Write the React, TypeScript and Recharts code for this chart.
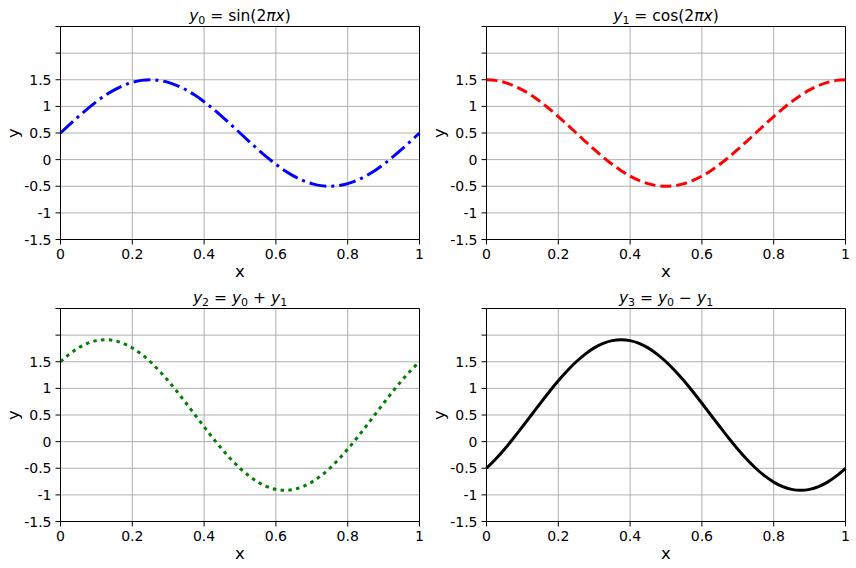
import React from 'react'
import { LineChart, Line, XAxis, YAxis, CartesianGrid, ReferenceLine } from 'recharts'

const xs = [
  0, 0.025, 0.05, 0.075, 0.1, 0.125, 0.15, 0.175, 0.2, 0.225, 0.25, 0.275, 0.3, 0.325, 0.35, 0.375, 0.4,
  0.425, 0.45, 0.475, 0.5, 0.525, 0.55, 0.575, 0.6, 0.625, 0.65, 0.675, 0.7, 0.725, 0.75, 0.775, 0.8,
  0.825, 0.85, 0.875, 0.9, 0.925, 0.95, 0.975, 1
]

const y0 = [
  0.5, 0.656, 0.809, 0.954, 1.088, 1.207, 1.309, 1.391, 1.451, 1.488, 1.5, 1.488, 1.451, 1.391, 1.309,
  1.207, 1.088, 0.954, 0.809, 0.656, 0.5, 0.344, 0.191, 0.046, -0.088, -0.207, -0.309, -0.391, -0.451,
  -0.488, -0.5, -0.488, -0.451, -0.391, -0.309, -0.207, -0.088, 0.046, 0.191, 0.344, 0.5
]

const y1 = [
  1.5, 1.488, 1.451, 1.391, 1.309, 1.207, 1.088, 0.954, 0.809, 0.656, 0.5, 0.344, 0.191, 0.046, -0.088,
  -0.207, -0.309, -0.391, -0.451, -0.488, -0.5, -0.488, -0.451, -0.391, -0.309, -0.207, -0.088, 0.046,
  0.191, 0.344, 0.5, 0.656, 0.809, 0.954, 1.088, 1.207, 1.309, 1.391, 1.451, 1.488, 1.5
]

const y2 = [
  1.5, 1.644, 1.76, 1.845, 1.897, 1.914, 1.897, 1.845, 1.76, 1.644, 1.5, 1.331, 1.142, 0.937, 0.721, 0.5,
  0.279, 0.063, -0.142, -0.331, -0.5, -0.644, -0.76, -0.845, -0.897, -0.914, -0.897, -0.845, -0.76,
  -0.644, -0.5, -0.331, -0.142, 0.063, 0.279, 0.5, 0.721, 0.937, 1.142, 1.331, 1.5
]

const y3 = [
  -0.5, -0.331, -0.142, 0.063, 0.279, 0.5, 0.721, 0.937, 1.142, 1.331, 1.5, 1.644, 1.76, 1.845, 1.897,
  1.914, 1.897, 1.845, 1.76, 1.644, 1.5, 1.331, 1.142, 0.937, 0.721, 0.5, 0.279, 0.063, -0.142, -0.331,
  -0.5, -0.644, -0.76, -0.845, -0.897, -0.914, -0.897, -0.845, -0.76, -0.644, -0.5
]

const xTicks = [0, 0.2, 0.4, 0.6, 0.8, 1]
const yTicks = [-1.5, -1, -0.5, 0, 0.5, 1, 1.5, 2, 2.5]

const FONT = 'DejaVu Sans, sans-serif'
const PW = 359
const PH = 213
const TICK_FS = 14

type Sub = { t: string; it?: boolean; sub?: boolean }

const sub = (s: string): Sub => ({ t: s, sub: true })
const it = (s: string): Sub => ({ t: s, it: true })
const rm = (s: string): Sub => ({ t: s })

const panels = [
  { left: 60.5, top: 26.5, ys: y0, color: '#0000ff', dash: '17 5 3 5', title: [it('y'), sub('0'), rm(' = sin(2'), it('πx'), rm(')')] },
  { left: 486.5, top: 26.5, ys: y1, color: '#ff0000', dash: '11 5', title: [it('y'), sub('1'), rm(' = cos(2'), it('πx'), rm(')')] },
  { left: 60.5, top: 308.5, ys: y2, color: '#008000', dash: '3.5 4.3', title: [it('y'), sub('2'), rm(' = '), it('y'), sub('0'), rm(' + '), it('y'), sub('1')] },
  { left: 486.5, top: 308.5, ys: y3, color: '#000000', dash: undefined, title: [it('y'), sub('3'), rm(' = '), it('y'), sub('0'), rm(' \u2212 '), it('y'), sub('1')] }
]

function Title({ parts, x, y }: { parts: Sub[]; x: number; y: number }) {
  const out: React.ReactNode[] = []
  let prevSub = false
  parts.forEach((p, i) => {
    let dy = 0
    if (p.sub && !prevSub) dy = 3
    if (!p.sub && prevSub) dy = -3
    prevSub = !!p.sub
    out.push(
      <tspan key={i} dy={dy} fontStyle={p.it ? 'italic' : 'normal'} fontSize={p.sub ? 11 : 15.5}>
        {p.t}
      </tspan>
    )
  })
  return (
    <text x={x} y={y} textAnchor="middle" fontFamily={FONT} fontSize={15.5} fill="#000" xmlSpace="preserve">
      {out}
    </text>
  )
}

const XTick = (props: any) => {
  const { x, y, payload } = props
  return (
    <text x={x} y={y + 10.5} textAnchor="middle" fontFamily={FONT} fontSize={TICK_FS} fill="#000">
      {String(payload.value)}
    </text>
  )
}

const YTick = (props: any) => {
  const { x, y, payload } = props
  const v = payload.value as number
  if (v > 1.5) return <g />
  return (
    <text x={x} y={y + 5} textAnchor="end" fontFamily={FONT} fontSize={TICK_FS} fill="#000">
      {String(v)}
    </text>
  )
}

function Panel({ p }: { p: (typeof panels)[number] }) {
  const rows = xs.map((x, i) => ({ x, y: p.ys[i] }))
  return (
    <div style={{ position: 'absolute', left: p.left - 60.5, top: p.top - 26.5 }}>
      <LineChart
        width={430}
        height={285}
        data={rows}
        margin={{ top: 26.5, right: 10.5, bottom: 0.5, left: 0.5 }}
      >
        <CartesianGrid stroke="#b0b0b0" strokeWidth={1} />
        <XAxis
          dataKey="x"
          type="number"
          domain={[0, 1]}
          ticks={xTicks}
          interval={0}
          height={45}
          tick={<XTick />}
          tickSize={5}
          tickMargin={4}
          stroke="#000"
        />
        <YAxis
          type="number"
          domain={[-1.5, 2.5]}
          ticks={yTicks}
          interval={0}
          width={60}
          tick={<YTick />}
          tickSize={5}
          tickMargin={4}
          stroke="#000"
          allowDataOverflow
        />
        <ReferenceLine y={2.5} stroke="#000" strokeWidth={1} />
        <ReferenceLine x={1} stroke="#000" strokeWidth={1} />
        <Line
          dataKey="y"
          type="monotone"
          stroke={p.color}
          strokeWidth={3}
          strokeDasharray={p.dash}
          dot={false}
          isAnimationActive={false}
        />
      </LineChart>
    </div>
  )
}

export default function App() {
  return (
    <div style={{ position: 'absolute', left: 0, top: 0, width: 856, height: 568, background: '#fff' }}>
      {panels.map((p, i) => (
        <Panel key={i} p={p} />
      ))}
      <svg width={856} height={568} style={{ position: 'absolute', left: 0, top: 0, pointerEvents: 'none' }}>
        {panels.map((p, i) => (
          <g key={i}>
            <Title parts={p.title} x={p.left + PW / 2} y={p.top - 6} />
            <text x={p.left + PW / 2} y={p.top + PH + 37.5} textAnchor="middle" fontFamily={FONT} fontSize={16.5} fill="#000">
              x
            </text>
            <text
              x={p.left - 42}
              y={p.top + PH / 2}
              textAnchor="middle"
              fontFamily={FONT}
              fontSize={16.5}
              fill="#000"
              transform={`rotate(-90 ${p.left - 42} ${p.top + PH / 2})`}
            >
              y
            </text>
          </g>
        ))}
      </svg>
    </div>
  )
}
